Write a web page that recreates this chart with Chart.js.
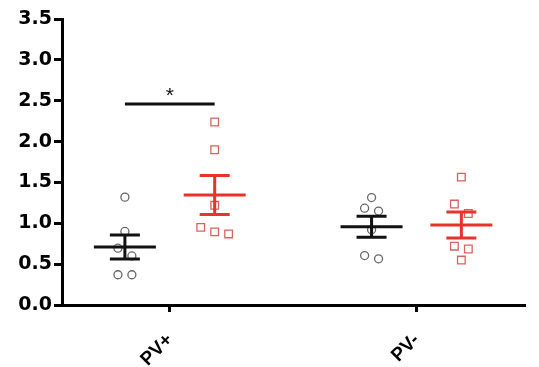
<!DOCTYPE html>
<html>
<head>
<meta charset="utf-8">
<script src="https://cdn.jsdelivr.net/npm/chart.js@4"></script>
<style>
  html, body { margin: 0; padding: 0; background: #fff; }
  #wrap { width: 539px; height: 367px; }
</style>
</head>
<body>
<div id="wrap"><canvas id="myChart"></canvas></div>
<script>
// categories on the x axis
var categories = ['PV+', 'PV-'];
// individual values
var blackPVplus = [1.32, 0.90, 0.695, 0.60, 0.37, 0.37];
var redPVplus = [2.24, 1.90, 1.22, 0.95, 0.87, 0.895];
var blackPVminus = [1.315, 1.185, 1.15, 0.92, 0.565, 0.605];
var redPVminus = [1.565, 1.235, 1.12, 0.72, 0.685, 0.55];
// y axis ticks
var yTicks = [0, 0.5, 1.0, 1.5, 2.0, 2.5, 3.0, 3.5];
// significance bar between the two PV+ groups
var sigY = 2.46;
var sigLabel = '*';

var catPos = [1, 3];
var groupShift = 0.364;
var BLACK = '#111111';
var RED = '#e8322b';

var groups = [
  { values: blackPVplus, cat: 0, side: -1, color: BLACK, point: '#666666', style: 'circle' },
  { values: redPVplus, cat: 0, side: 1, color: RED, point: '#d9625c', style: 'rect' },
  { values: blackPVminus, cat: 1, side: -1, color: BLACK, point: '#666666', style: 'circle' },
  { values: redPVminus, cat: 1, side: 1, color: RED, point: '#d9625c', style: 'rect' }
];

function center(g) {
  return catPos[g.cat] + g.side * groupShift;
}

function meanSem(v) {
  var n = v.length;
  var m = v.reduce(function (a, b) { return a + b; }, 0) / n;
  var ss = v.reduce(function (a, b) { return a + (b - m) * (b - m); }, 0);
  var sd = Math.sqrt(ss / (n - 1));
  return { mean: m, sem: sd / Math.sqrt(n) };
}

// simple row-based dodge so close values sit side by side
function dodge(values) {
  var idx = values.map(function (v, i) { return i; });
  idx.sort(function (a, b) { return values[b] - values[a]; });
  var rows = [];
  idx.forEach(function (i) {
    var last = rows[rows.length - 1];
    if (last && values[last[0]] - values[i] < 0.125) last.push(i);
    else rows.push([i]);
  });
  var off = new Array(values.length);
  rows.forEach(function (r) {
    r.forEach(function (i, k) { off[i] = (k - (r.length - 1) / 2) * 0.113; });
  });
  return off;
}

var datasets = groups.map(function (g) {
  var off = dodge(g.values);
  return {
    data: g.values.map(function (v, i) { return { x: center(g) + off[i], y: v }; }),
    pointStyle: g.style,
    pointRadius: g.style === 'rect' ? 5.4 : 4,
    pointBorderColor: g.point,
    pointBackgroundColor: 'rgba(0,0,0,0)',
    pointBorderWidth: 1.3,
    showLine: false
  };
});

var errorPlugin = {
  id: 'errorPlugin',
  afterDatasetsDraw: function (chart) {
    var ctx = chart.ctx;
    var xs = chart.scales.x, ys = chart.scales.y;
    ctx.save();
    ctx.lineWidth = 3;
    ctx.lineCap = 'butt';
    groups.forEach(function (g) {
      var s = meanSem(g.values);
      var cx = xs.getPixelForValue(center(g));
      var ym = ys.getPixelForValue(s.mean);
      var yt = ys.getPixelForValue(s.mean + s.sem);
      var yb = ys.getPixelForValue(s.mean - s.sem);
      ctx.strokeStyle = g.color;
      ctx.beginPath();
      ctx.moveTo(cx - 31, ym); ctx.lineTo(cx + 31, ym);
      ctx.moveTo(cx - 15, yt); ctx.lineTo(cx + 15, yt);
      ctx.moveTo(cx - 15, yb); ctx.lineTo(cx + 15, yb);
      ctx.moveTo(cx, yt); ctx.lineTo(cx, yb);
      ctx.stroke();
    });
    // significance bar
    var x1 = xs.getPixelForValue(center(groups[0]));
    var x2 = xs.getPixelForValue(center(groups[1]));
    var yy = ys.getPixelForValue(sigY);
    ctx.strokeStyle = BLACK;
    ctx.beginPath();
    ctx.moveTo(x1, yy); ctx.lineTo(x2, yy);
    ctx.stroke();
    ctx.fillStyle = BLACK;
    ctx.font = '21px "Liberation Sans", Arial, sans-serif';
    ctx.textAlign = 'center';
    ctx.textBaseline = 'bottom';
    ctx.fillText(sigLabel, (x1 + x2) / 2, yy + 3);
    ctx.restore();
  }
};

var ctx = document.getElementById('myChart').getContext('2d');
var myChart = new Chart(ctx, {
  type: 'scatter',
  data: { datasets: datasets },
  options: {
    responsive: true,
    maintainAspectRatio: false,
    animation: false,
    layout: { padding: { top: 19, right: 14, left: 0, bottom: 0 } },
    plugins: { legend: { display: false }, tooltip: { enabled: false } },
    scales: {
      x: {
        type: 'linear',
        min: 0.126,
        max: 3.88,
        afterBuildTicks: function (axis) {
          axis.ticks = catPos.map(function (p) { return { value: p }; });
        },
        afterFit: function (axis) { axis.height = 62; },
        ticks: {
          autoSkip: false,
          minRotation: 45,
          maxRotation: 45,
          padding: 17,
          color: '#000',
          font: { family: '"Liberation Sans", Arial, sans-serif', size: 19, weight: 'bold' },
          callback: function (v) {
            var i = catPos.indexOf(v);
            return i >= 0 ? categories[i] : '';
          }
        },
        grid: { drawOnChartArea: false, drawTicks: true, tickLength: 7, tickWidth: 3, color: '#000' },
        border: { display: true, width: 3, color: '#000' }
      },
      y: {
        min: 0,
        max: 3.5,
        afterBuildTicks: function (axis) {
          axis.ticks = yTicks.map(function (v) { return { value: v }; });
        },
        afterFit: function (axis) { axis.width = 62; },
        ticks: {
          padding: 2,
          color: '#000',
          font: { family: '"DejaVu Sans", sans-serif', size: 19, weight: 'bold' },
          callback: function (v) { return v.toFixed(1); }
        },
        grid: { drawOnChartArea: false, drawTicks: true, tickLength: 8, tickWidth: 3, color: '#000' },
        border: { display: true, width: 3, color: '#000' }
      }
    }
  },
  plugins: [errorPlugin]
});
</script>
</body>
</html>
